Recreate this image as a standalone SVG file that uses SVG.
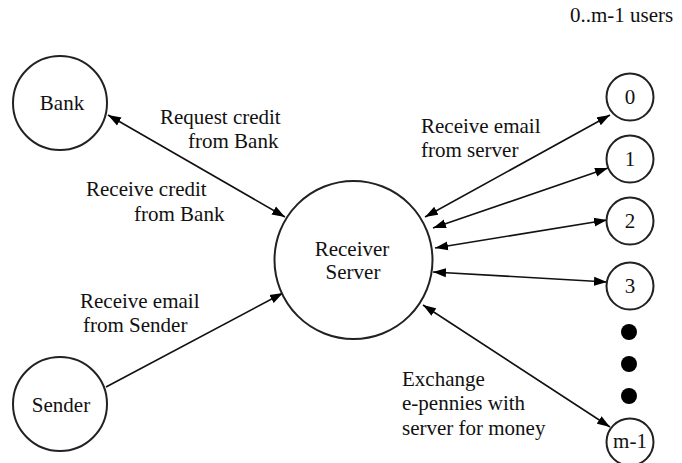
<svg xmlns="http://www.w3.org/2000/svg" width="682" height="463" viewBox="0 0 682 463">
  <style>
    .node { fill: #fff; stroke: #222; stroke-width: 2; }
    .edge { fill: none; stroke: #111; stroke-width: 1.6; }
    text { font-family: "Liberation Serif", "Times New Roman", serif; font-size: 21px; fill: #111; }
    .c { text-anchor: middle; }
    .dot { fill: #000; }
  </style>
  <defs>
    <marker id="arrow" markerUnits="userSpaceOnUse" markerWidth="14" markerHeight="10" refX="13" refY="5" orient="auto-start-reverse">
      <path d="M0,0.5 L13,5 L0,9.5 z" fill="#000"/>
    </marker>
  </defs>
  <rect width="682" height="463" fill="#fff"/>

  <!-- connectors -->
  <g id="connectors">
    <line class="edge" x1="108" y1="115" x2="285" y2="217" marker-start="url(#arrow)" marker-end="url(#arrow)"/>
    <line class="edge" x1="106" y1="387" x2="283" y2="293" marker-end="url(#arrow)"/>
    <line class="edge" x1="425" y1="217" x2="610" y2="115" marker-start="url(#arrow)" marker-end="url(#arrow)"/>
    <line class="edge" x1="433" y1="228" x2="608" y2="168" marker-start="url(#arrow)" marker-end="url(#arrow)"/>
    <line class="edge" x1="435" y1="248" x2="607" y2="220" marker-start="url(#arrow)" marker-end="url(#arrow)"/>
    <line class="edge" x1="433" y1="272" x2="607" y2="282" marker-start="url(#arrow)" marker-end="url(#arrow)"/>
    <line class="edge" x1="423" y1="305" x2="610" y2="427" marker-start="url(#arrow)" marker-end="url(#arrow)"/>
  </g>

  <!-- connector labels -->
  <g id="labels">
    <text x="160" y="124">Request credit</text>
    <text x="188" y="148">from Bank</text>
    <text x="86" y="196">Receive credit</text>
    <text x="134" y="221">from Bank</text>
    <text x="80" y="308">Receive email</text>
    <text x="83" y="332">from Sender</text>
    <text x="421" y="133">Receive email</text>
    <text x="421" y="157">from server</text>
    <text x="402" y="386">Exchange</text>
    <text x="402" y="410">e-pennies with</text>
    <text x="402" y="435">server for money</text>
    <text x="570" y="22">0..m-1 users</text>
  </g>

  <!-- nodes -->
  <g id="bank">
    <circle class="node" cx="60" cy="103" r="47"/>
    <text class="c" x="62" y="110">Bank</text>
  </g>
  <g id="sender">
    <circle class="node" cx="60" cy="404" r="47"/>
    <text class="c" x="61" y="412">Sender</text>
  </g>
  <g id="receiver-server">
    <circle class="node" cx="353.5" cy="260" r="79"/>
    <text class="c" x="352" y="256">Receiver</text>
    <text class="c" x="353" y="279">Server</text>
  </g>
  <g id="user-0">
    <circle class="node" cx="630" cy="97" r="23.5"/>
    <text class="c" x="630" y="104">0</text>
  </g>
  <g id="user-1">
    <circle class="node" cx="630" cy="159" r="23.5"/>
    <text class="c" x="630" y="166">1</text>
  </g>
  <g id="user-2">
    <circle class="node" cx="630" cy="221" r="23.5"/>
    <text class="c" x="630" y="228">2</text>
  </g>
  <g id="user-3">
    <circle class="node" cx="630" cy="286" r="23.5"/>
    <text class="c" x="630" y="293">3</text>
  </g>
  <g id="ellipsis">
    <circle class="dot" cx="629" cy="332" r="8"/>
    <circle class="dot" cx="629" cy="364" r="8"/>
    <circle class="dot" cx="629" cy="396" r="8"/>
  </g>
  <g id="user-m-1">
    <circle class="node" cx="630" cy="442" r="23.5"/>
    <text class="c" x="630" y="448">m-1</text>
  </g>
</svg>
